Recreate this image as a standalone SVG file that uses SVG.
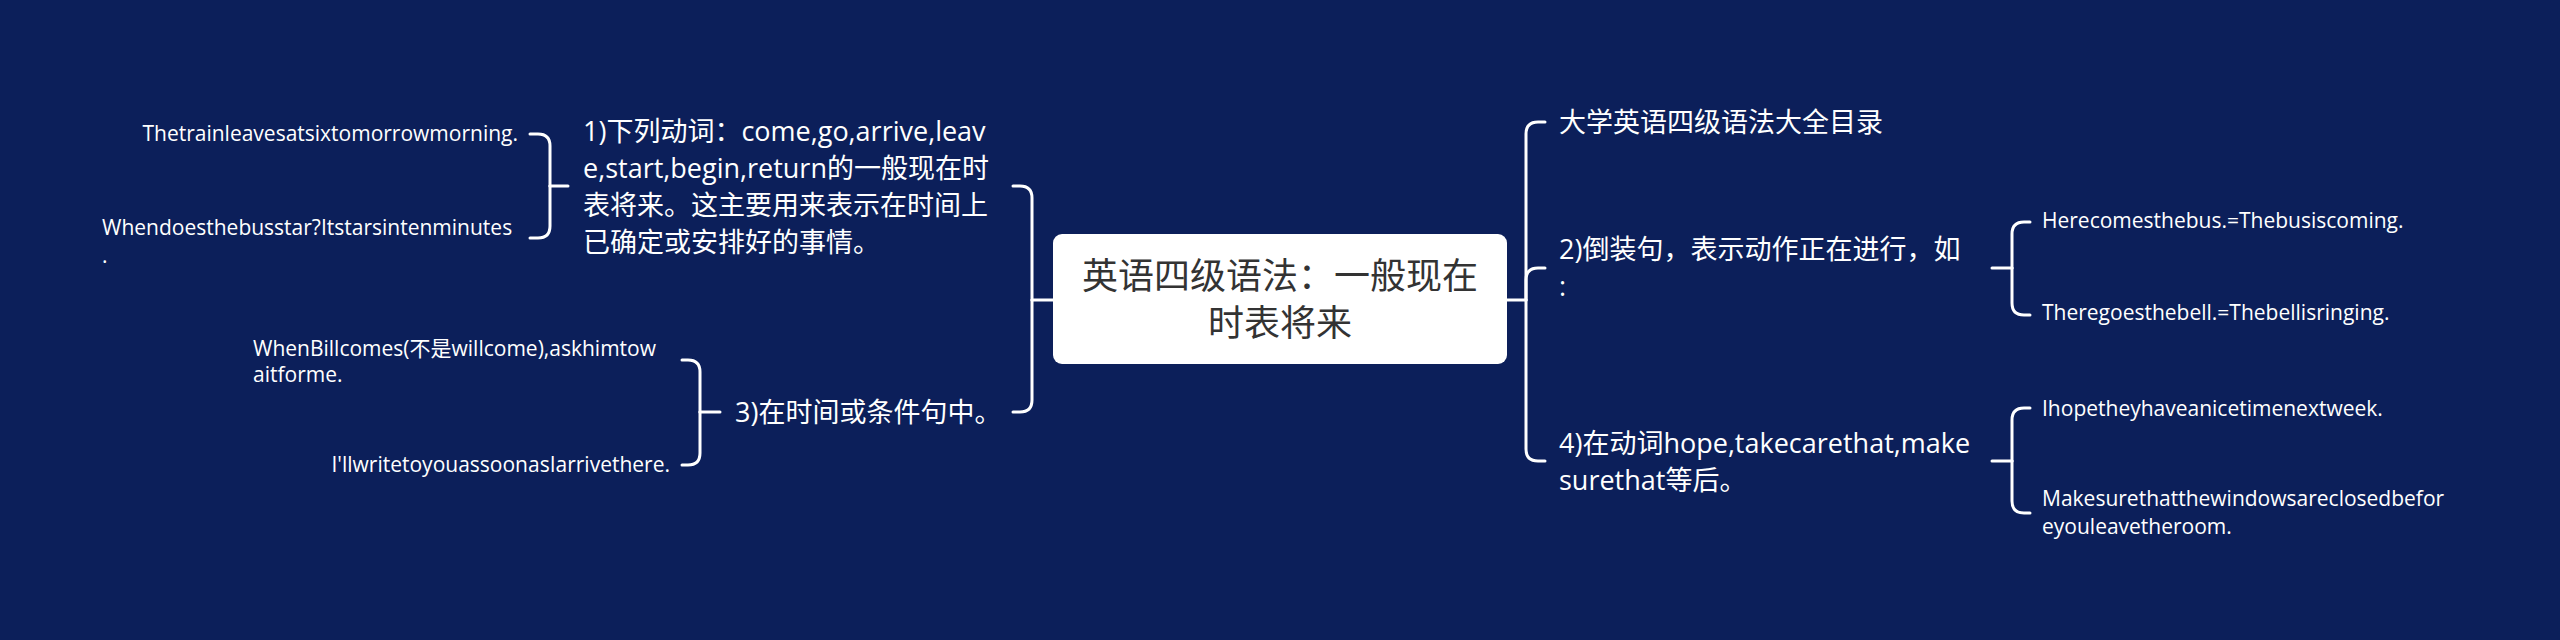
<svg xmlns="http://www.w3.org/2000/svg" width="2560" height="640" viewBox="0 0 2560 640">
<defs>
<style>
.bg{fill:#0c1f5a}
.ln{fill:none;stroke:#ffffff;stroke-width:3;stroke-linecap:round;stroke-linejoin:round}
.t1{font-family:"Open Sans","Noto Sans CJK SC",sans-serif;font-size:27px;fill:#ffffff}
.t2{font-family:"Open Sans","Noto Sans CJK SC",sans-serif;font-size:21px;fill:#ffffff}
.tc{font-family:"Open Sans","Noto Sans CJK SC",sans-serif;font-size:36px;fill:#333333}
</style>
</defs>
<rect class="bg" x="0" y="0" width="2560" height="640"/>
<g id="connectors">
<path class="ln" d="M1053,300 H1032"/>
<path class="ln" d="M1032,300 V198 Q1032,186 1020,186 H1013"/>
<path class="ln" d="M1032,300 V400 Q1032,412 1020,412 H1013"/>
<path class="ln" d="M1507,300 H1526"/>
<path class="ln" d="M1526,300 V134 Q1526,122 1538,122 H1545"/>
<path class="ln" d="M1526,300 V280 Q1526,268 1538,268 H1545"/>
<path class="ln" d="M1526,300 V449 Q1526,461 1538,461 H1545"/>
<path class="ln" d="M568,186 H550"/>
<path class="ln" d="M550,186 V146 Q550,134 538,134 H530"/>
<path class="ln" d="M550,186 V226 Q550,238 538,238 H530"/>
<path class="ln" d="M720,412 H700"/>
<path class="ln" d="M700,412 V372 Q700,360 688,360 H682"/>
<path class="ln" d="M700,412 V453 Q700,465 688,465 H682"/>
<path class="ln" d="M1992,268 H2012"/>
<path class="ln" d="M2012,268 V234 Q2012,222 2024,222 H2030"/>
<path class="ln" d="M2012,268 V303 Q2012,315 2024,315 H2030"/>
<path class="ln" d="M1992,461 H2012"/>
<path class="ln" d="M2012,461 V420 Q2012,408 2024,408 H2030"/>
<path class="ln" d="M2012,461 V501 Q2012,513 2024,513 H2030"/>
</g>
<g id="center">
<rect x="1053" y="234" width="454" height="130" rx="9" ry="9" fill="#ffffff"/>
<text class="tc" text-anchor="middle"><tspan x="1280" y="289">英语四级语法：一般现在</tspan><tspan x="1280" y="336">时表将来</tspan></text>
</g>
<g id="n1">
<text class="t1"><tspan x="583" y="141">1)下列动词：come,go,arrive,leav</tspan><tspan x="583" y="178">e,start,begin,return的一般现在时</tspan><tspan x="583" y="215">表将来。这主要用来表示在时间上</tspan><tspan x="583" y="252">已确定或安排好的事情。</tspan></text>
</g>
<g id="n1a">
<text class="t2" text-anchor="end" x="518" y="141">Thetrainleavesatsixtomorrowmorning.</text>
</g>
<g id="n1b">
<text class="t2"><tspan x="102" y="235">Whendoesthebusstar?Itstarsintenminutes</tspan><tspan x="102" y="263">.</tspan></text>
</g>
<g id="n3">
<text class="t1" x="735" y="422">3)在时间或条件句中。</text>
</g>
<g id="n3a">
<text class="t2"><tspan x="253" y="356">WhenBillcomes(不是willcome),askhimtow</tspan><tspan x="253" y="382">aitforme.</tspan></text>
</g>
<g id="n3b">
<text class="t2" text-anchor="end" x="670" y="472">I'llwritetoyouassoonasIarrivethere.</text>
</g>
<g id="r1">
<text class="t1" x="1559" y="132">大学英语四级语法大全目录</text>
</g>
<g id="r2">
<text class="t1"><tspan x="1559" y="259">2)倒装句，表示动作正在进行，如</tspan><tspan x="1559" y="296">:</tspan></text>
</g>
<g id="r2a">
<text class="t2" x="2042" y="228">Herecomesthebus.=Thebusiscoming.</text>
</g>
<g id="r2b">
<text class="t2" x="2042" y="320">Theregoesthebell.=Thebellisringing.</text>
</g>
<g id="r4">
<text class="t1"><tspan x="1559" y="453">4)在动词hope,takecarethat,make</tspan><tspan x="1559" y="490">surethat等后。</tspan></text>
</g>
<g id="r4a">
<text class="t2" x="2042" y="416">Ihopetheyhaveanicetimenextweek.</text>
</g>
<g id="r4b">
<text class="t2"><tspan x="2042" y="506">Makesurethatthewindowsareclosedbefor</tspan><tspan x="2042" y="534">eyouleavetheroom.</tspan></text>
</g>
</svg>
